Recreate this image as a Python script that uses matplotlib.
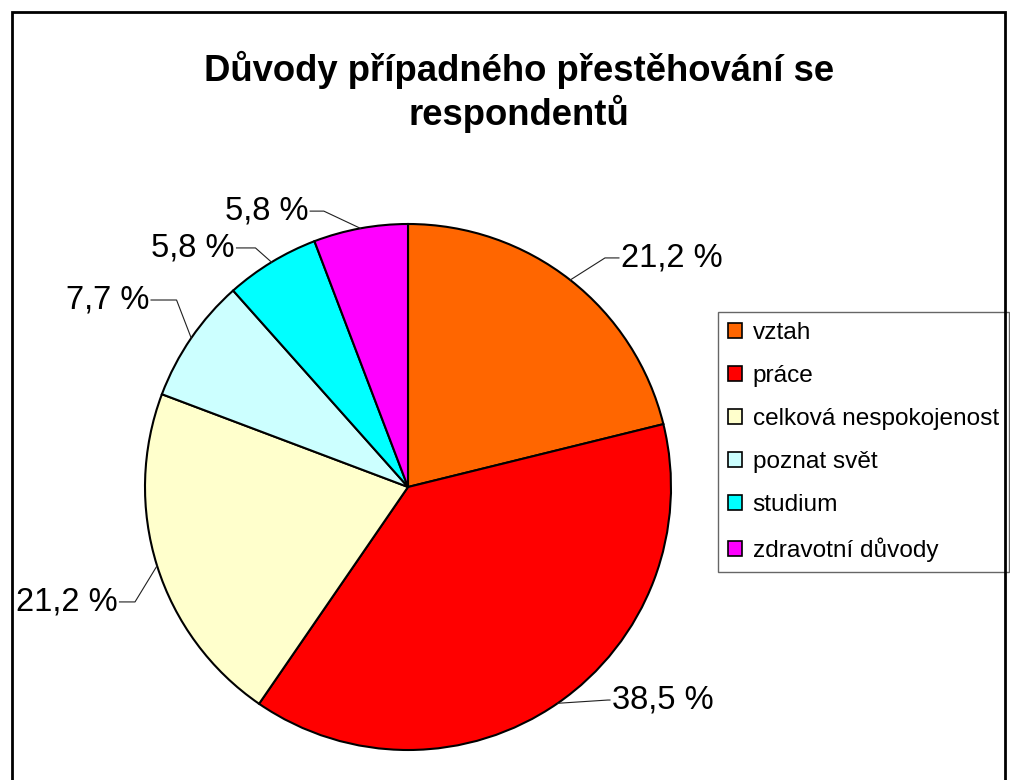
import numpy as np
import matplotlib
matplotlib.use("Agg")
import matplotlib.pyplot as plt
from matplotlib.patches import Patch, Rectangle

plt.rcParams['font.family'] = ['Liberation Sans', 'DejaVu Sans']

# data
categories = ["vztah", "práce", "celková nespokojenost", "poznat svět", "studium", "zdravotní důvody"]
shares = [21.2, 38.5, 21.2, 7.7, 5.8, 5.8]
colors = ["#FF6600", "#FF0000", "#FFFFCC", "#CCFFFF", "#00FFFF", "#FF00FF"]
title = "Důvody případného přestěhování se\nrespondentů"

# label layout (pie radius units): text anchor, elbow of the leader line, alignment
label_pos = [(0.81, 0.871), (0.776, -0.81), (-1.105, -0.437), (-0.985, 0.711), (-0.66, 0.909), (-0.38, 1.049)]
elbow_pos = [(0.749, 0.871), (0.76, -0.81), (-1.038, -0.437), (-0.88, 0.711), (-0.58, 0.909), (-0.32, 1.049)]
label_ha = ["left", "left", "right", "right", "right", "right"]

fig = plt.figure(figsize=(10.1, 7.8), dpi=100)

# outer frame
fig.patches.append(Rectangle((12 / 1010, -0.02), 993 / 1010, 1 - 12 / 780 + 0.02,
                             transform=fig.transFigure, fill=False, edgecolor="black",
                             linewidth=2.0, zorder=10))

fig.text(519 / 1010, 1 - 92 / 780, title, ha="center", va="center",
         fontsize=26.3, fontweight="bold", linespacing=1.17)

ax = fig.add_axes([(408 - 263) / 1010, (780 - 750) / 780, 526 / 1010, 526 / 780])
wedges, _ = ax.pie(shares, colors=colors, startangle=90, counterclock=False, radius=1.0,
                   wedgeprops=dict(edgecolor="black", linewidth=1.5))
ax.set_xlim(-1, 1)
ax.set_ylim(-1, 1)
ax.set_aspect("equal")
ax.axis("off")

total = sum(shares)
start = 90.0
for i, v in enumerate(shares):
    mid = np.deg2rad(start - v / total * 360 / 2)
    start -= v / total * 360
    ex, ey = np.cos(mid), np.sin(mid)
    tx, ty = label_pos[i]
    bx, by = elbow_pos[i]
    ax.plot([ex, bx, tx - (0.008 if label_ha[i] == "left" else -0.008)], [ey, by, ty],
            color="#202020", linewidth=0.8, clip_on=False)
    txt = ("%.1f %%" % v).replace(".", ",")
    ax.text(tx, ty, txt, ha=label_ha[i], va="center", fontsize=23.5, clip_on=False)

handles = [Patch(facecolor=c, edgecolor="black", linewidth=1.2) for c in colors]
leg = fig.legend(handles, categories, loc="upper left", bbox_to_anchor=(718 / 1010, 1 - 312 / 780),
                 fontsize=17.6, frameon=True, fancybox=False, edgecolor="#404040",
                 handlelength=0.55, handleheight=0.55, handletextpad=0.45,
                 labelspacing=0.86, borderpad=0.42, borderaxespad=0)
leg.get_frame().set_linewidth(1.0)

fig.savefig("out.png", dpi=100, facecolor="white")
